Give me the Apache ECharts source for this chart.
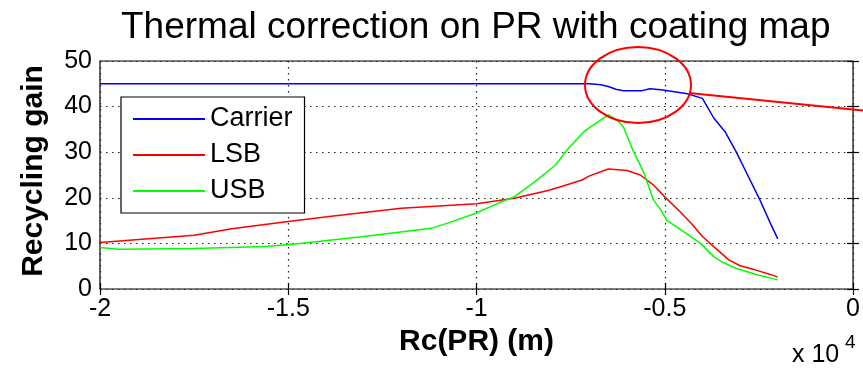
<!DOCTYPE html>
<html>
<head>
<meta charset="utf-8">
<script src="https://cdn.jsdelivr.net/npm/echarts@6/dist/echarts.min.js"></script>
<style>
  html, body { margin: 0; padding: 0; background: #fff; }
  #chart { width: 863px; height: 373px; }
</style>
</head>
<body>
<div id="chart"></div>
<script>
// Radius of curvature of PR (m) and recycling gain for each field
const carrierRc = [-20000, -7000, -6700, -6500, -6300, -6100, -5600, -5400, -5100, -4700, -4400, -4000, -3700, -3400, -3100, -2800, -2500, -2200, -2000];
const carrierGain = [45, 45, 44.8, 44.4, 43.8, 43.5, 43.5, 43.9, 43.7, 43.2, 42.8, 41.8, 37.5, 34.5, 30, 25, 20, 14.5, 11];

const lsbRc = [-20000, -17500, -16500, -15000, -13800, -12000, -10000, -9000, -8100, -7700, -7200, -7000, -6500, -6000, -5650, -5300, -5000, -4600, -4300, -4000, -3700, -3300, -3000, -2600, -2200, -2000];
const lsbGain = [10.2, 11.8, 13.2, 14.8, 16.0, 17.7, 18.7, 19.9, 21.6, 22.6, 23.9, 24.8, 26.3, 26.0, 25.0, 22.8, 20.2, 17.0, 14.4, 11.5, 9.3, 6.4, 5.1, 4.2, 3.2, 2.6];

const usbRc = [-20000, -19500, -17500, -15600, -14700, -13000, -11200, -10750, -10050, -9400, -9000, -8500, -7900, -7600, -7150, -6700, -6500, -6250, -6100, -5850, -5550, -5300, -5100, -4950, -4500, -4050, -3700, -3450, -3100, -2500, -2000];
const usbGain = [9.1, 8.7, 8.9, 9.3, 10.0, 11.5, 13.3, 14.5, 16.5, 18.9, 20.2, 23.2, 27.2, 30.5, 34.5, 37.1, 38.2, 36.9, 35.6, 30.5, 25.4, 19.5, 17.3, 15.1, 12.6, 10.0, 7.1, 5.8, 4.5, 3.0, 2.0];

const xTicks = [-20000, -15000, -10000, -5000, 0];
const yTicks = [0, 10, 20, 30, 40, 50];

const pairs = (xs, ys) => xs.map((x, i) => [x, ys[i]]);

const FONT = 'Liberation Sans, Arial, sans-serif';
const dotted = { type: [1.5, 4.5], width: 1.2, color: '#222' };

const chart = echarts.init(document.getElementById('chart'), null, { renderer: 'canvas' });

const baseX = {
  type: 'value', min: xTicks[0], max: xTicks[xTicks.length - 1], interval: 5000,
  axisLine: { show: false },
  axisTick: { show: true, inside: true, length: 6, lineStyle: { color: '#000', width: 1.2 } },
};
const baseY = {
  type: 'value', min: yTicks[0], max: yTicks[yTicks.length - 1], interval: 10,
  axisLine: { show: false },
  axisTick: { show: true, inside: true, length: 6, lineStyle: { color: '#000', width: 1.2 } },
};

chart.setOption({
  animation: false,
  backgroundColor: '#fff',
  title: {
    text: 'Thermal correction on PR with coating map',
    left: 116, top: 4,
    textStyle: { fontFamily: FONT, fontSize: 37, fontWeight: 'normal', color: '#000' }
  },
  grid: { left: 100, right: 6, top: 61, bottom: 84, show: true, borderColor: '#000', borderWidth: 1.2, backgroundColor: 'transparent' },
  legend: {
    orient: 'vertical', left: 121, top: 97,
    padding: [7, 12, 7, 12], itemGap: 6,
    itemWidth: 72, itemHeight: 2, icon: 'rect',
    backgroundColor: '#fff', borderColor: '#000', borderWidth: 1.2, borderRadius: 0,
    textStyle: { fontFamily: FONT, fontSize: 27, color: '#000', lineHeight: 30 },
    data: ['Carrier', 'LSB', 'USB']
  },
  xAxis: [
    Object.assign({}, baseX, {
      position: 'bottom',
      name: 'Rc(PR) (m)', nameLocation: 'middle', nameGap: 33,
      nameTextStyle: { fontFamily: FONT, fontSize: 30, fontWeight: 'bold', color: '#000' },
      axisLabel: { fontFamily: FONT, fontSize: 25, color: '#000', margin: 8, formatter: v => String(v / 10000) },
      splitLine: { show: true, lineStyle: dotted }
    }),
    Object.assign({}, baseX, { position: 'top', axisLabel: { show: false }, splitLine: { show: false } })
  ],
  yAxis: [
    Object.assign({}, baseY, {
      position: 'left',
      name: 'Recycling gain', nameLocation: 'middle', nameGap: 51,
      nameTextStyle: { fontFamily: FONT, fontSize: 30, fontWeight: 'bold', color: '#000', padding: [0, 0, 0, 8] },
      axisLabel: { fontFamily: FONT, fontSize: 25, color: '#000', margin: 8 },
      splitLine: { show: true, lineStyle: dotted }
    }),
    Object.assign({}, baseY, { position: 'right', axisLabel: { show: false }, splitLine: { show: false } })
  ],
  series: [
    { name: 'Carrier', type: 'line', data: pairs(carrierRc, carrierGain), symbol: 'none', color: '#0000ff', lineStyle: { width: 1.5 } },
    { name: 'LSB', type: 'line', data: pairs(lsbRc, lsbGain), symbol: 'none', color: '#ff0000', lineStyle: { width: 1.5 } },
    { name: 'USB', type: 'line', data: pairs(usbRc, usbGain), symbol: 'none', color: '#00ff00', lineStyle: { width: 1.5 } }
  ],
  graphic: [
    // exponent of the x axis
    { type: 'text', left: 792, top: 343, style: { text: 'x 10', font: '25px ' + FONT, fill: '#000' } },
    { type: 'text', left: 845, top: 333, style: { text: '4', font: '19px ' + FONT, fill: '#000' } },
    // hand-drawn highlight around the carrier dip
    { type: 'ellipse', shape: { cx: 638, cy: 85, rx: 53, ry: 38 }, style: { fill: 'none', stroke: '#ff0000', lineWidth: 2 }, z: 100 },
    { type: 'line', shape: { x1: 689, y1: 93, x2: 863, y2: 110.5 }, style: { stroke: '#ff0000', lineWidth: 2 }, z: 100 }
  ]
});
</script>
</body>
</html>
